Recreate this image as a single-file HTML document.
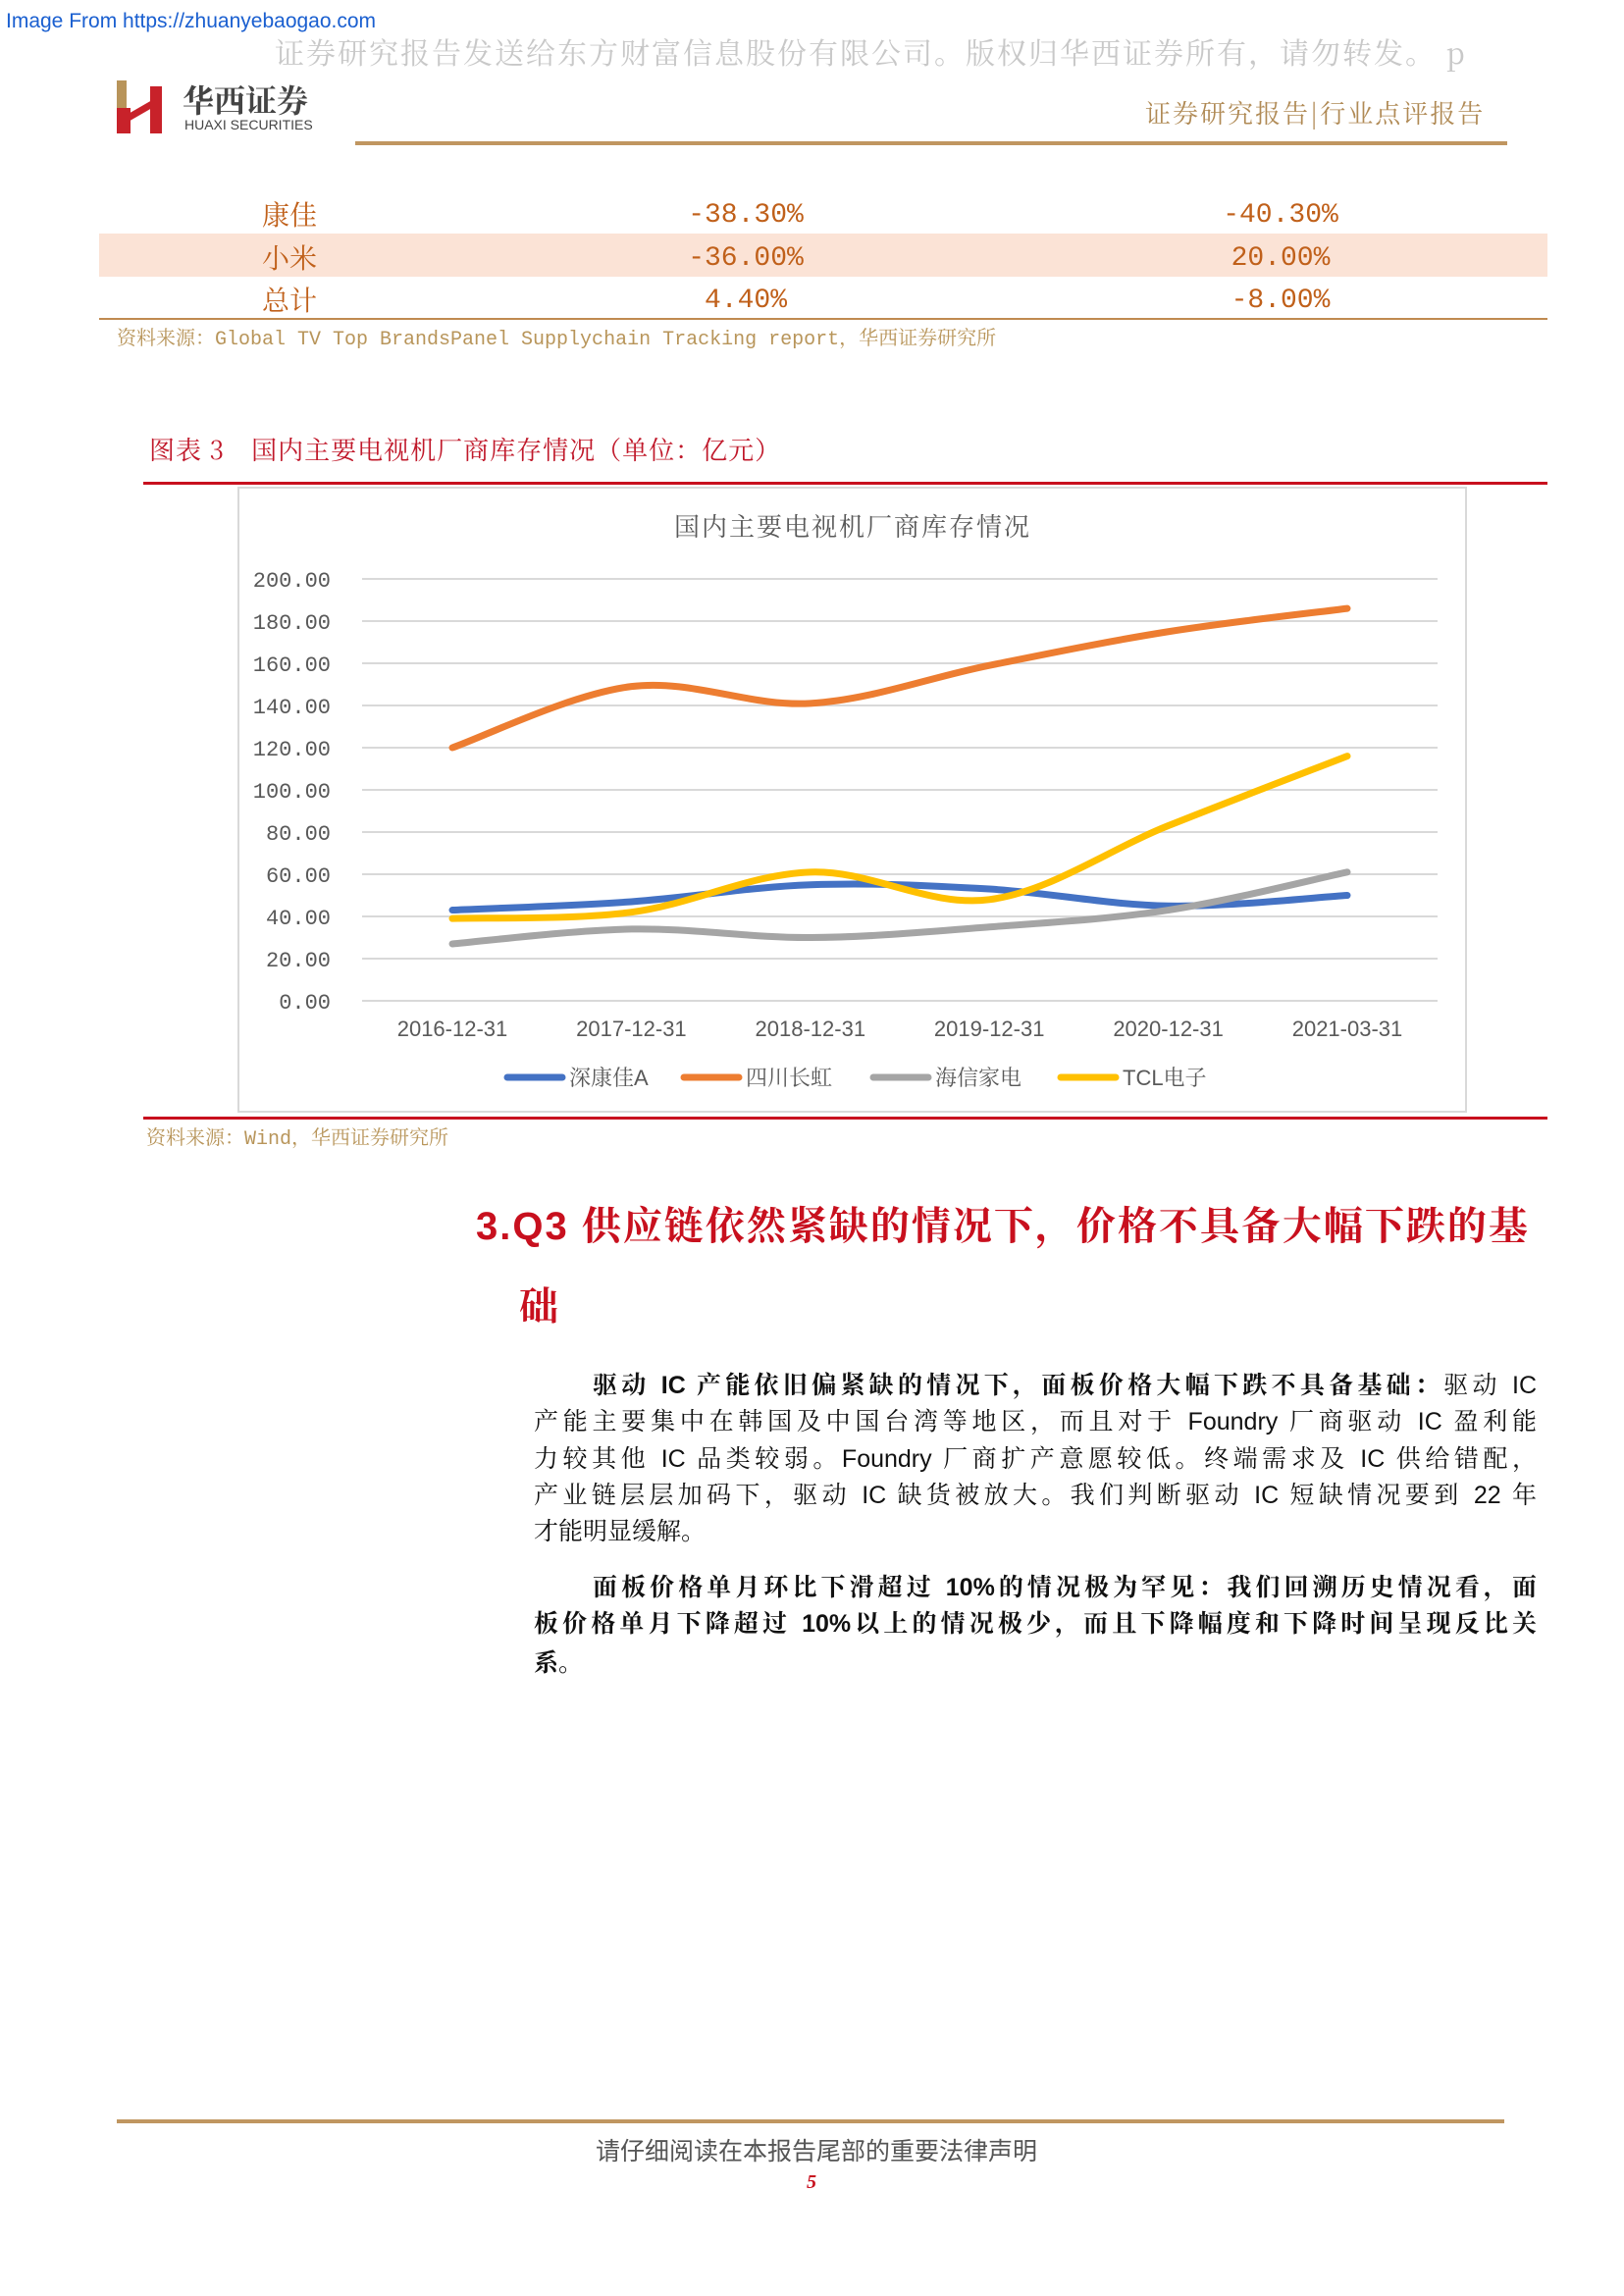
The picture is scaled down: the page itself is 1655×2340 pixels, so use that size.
<!DOCTYPE html>
<html><head><meta charset="utf-8">
<style>
body{margin:0;background:#fff;}
#page{position:relative;width:1655px;height:2340px;background:#fff;overflow:hidden;font-family:"Liberation Sans","Noto Serif CJK SC",serif;}
.a{position:absolute;white-space:nowrap;}
.serif{font-family:"Liberation Mono","Noto Serif CJK SC",serif;}
.line{position:absolute;left:544px;width:1022px;font-size:25px;line-height:30px;text-align:justify;text-align-last:justify;white-space:nowrap;font-family:"Liberation Sans","Noto Serif CJK SC",serif;color:#111;}
.last{text-align-last:left;}
.cell{position:absolute;font-size:28px;color:#c0601a;transform:translateX(-50%);white-space:nowrap;font-family:"Liberation Mono","Noto Serif CJK SC",serif;}
.num{margin-top:6px;}
</style></head><body>
<div id="page">
<div class="a" style="left:6px;top:10px;font-size:21px;color:#1a5fd0;font-family:'Liberation Sans',sans-serif;">Image From https://zhuanyebaogao.com</div>
<div class="a" style="left:280px;top:30px;font-size:30px;color:#c8c8c8;font-family:'Noto Serif CJK SC',serif;letter-spacing:2px;">证券研究报告发送给东方财富信息股份有限公司。版权归华西证券所有，请勿转发。 p</div>
<div style="position:absolute;left:119px;top:82px;width:50px;height:54px;">
 <div style="position:absolute;left:0;top:0;width:10px;height:54px;background:#b8945a;"></div>
 <div style="position:absolute;left:0;top:28px;width:14px;height:26px;background:#c8222a;"></div>
 <div style="position:absolute;left:34px;top:6px;width:12px;height:48px;background:#c8222a;"></div>
 <div style="position:absolute;left:8px;top:28px;width:30px;height:7px;background:#c8222a;transform:rotate(-30deg);"></div>
</div>
<div class="a" style="left:186px;top:78px;font-size:32px;font-weight:bold;color:#444;font-family:'Noto Serif CJK SC',serif;">华西证券</div>
<div class="a" style="left:188px;top:119px;font-size:14px;color:#444;">HUAXI SECURITIES</div>
<div class="a" style="left:1167px;top:96px;font-size:26px;color:#b08a55;font-family:'Noto Serif CJK SC',serif;letter-spacing:2px;">证券研究报告|行业点评报告</div>
<div style="position:absolute;left:362px;top:144px;width:1174px;height:4px;background:#c09660;"></div>

<div style="position:absolute;left:101px;top:238px;width:1476px;height:44px;background:#fbe3d6;"></div>
<div class="cell" style="left:295px;top:198px;">康佳</div>
<div class="cell num" style="left:760px;top:198px;">-38.30%</div>
<div class="cell num" style="left:1305px;top:198px;">-40.30%</div>
<div class="cell" style="left:295px;top:242px;">小米</div>
<div class="cell num" style="left:760px;top:242px;">-36.00%</div>
<div class="cell num" style="left:1305px;top:242px;">20.00%</div>
<div class="cell" style="left:295px;top:285px;">总计</div>
<div class="cell num" style="left:760px;top:285px;">4.40%</div>
<div class="cell num" style="left:1305px;top:285px;">-8.00%</div>
<div style="position:absolute;left:101px;top:324px;width:1476px;height:2px;background:#c08a50;"></div>
<div class="a serif" style="left:119px;top:328px;font-size:20px;color:#b8955a;">资料来源：Global TV Top BrandsPanel Supplychain Tracking report，华西证券研究所</div>

<div class="a" style="left:152px;top:439px;font-size:26px;color:#c0182a;font-family:'Noto Serif CJK SC',serif;letter-spacing:1px;">图表 3　国内主要电视机厂商库存情况（单位：亿元）</div>
<div style="position:absolute;left:146px;top:491px;width:1431px;height:3px;background:#c8101e;"></div>

<svg id="chart" style="position:absolute;left:0;top:0;" width="1655" height="1200"></svg>

<div style="position:absolute;left:146px;top:1138px;width:1431px;height:3px;background:#c8101e;"></div>
<div class="a serif" style="left:149px;top:1143px;font-size:20px;color:#b8955a;">资料来源：Wind，华西证券研究所</div>

<div class="a" style="left:485px;top:1218px;font-size:40px;font-weight:bold;color:#c8101e;font-family:'Liberation Sans','Noto Serif CJK SC',serif;letter-spacing:2px;">3.Q3 供应链依然紧缺的情况下，价格不具备大幅下跌的基</div>
<div class="a" style="left:529px;top:1300px;font-size:40px;font-weight:bold;color:#c8101e;font-family:'Noto Serif CJK SC',serif;">础</div>

<div>
<div class="line" style="top:1397px;left:604px;width:962px;"><b>驱动 IC 产能依旧偏紧缺的情况下，面板价格大幅下跌不具备基础：</b>驱动 IC</div>
<div class="line" style="top:1434px;">产能主要集中在韩国及中国台湾等地区，而且对于 Foundry 厂商驱动 IC 盈利能</div>
<div class="line" style="top:1472px;">力较其他 IC 品类较弱。Foundry 厂商扩产意愿较低。终端需求及 IC 供给错配，</div>
<div class="line" style="top:1509px;">产业链层层加码下，驱动 IC 缺货被放大。我们判断驱动 IC 短缺情况要到 22 年</div>
<div class="line last" style="top:1546px;">才能明显缓解。</div>
</div>
<div>
<div class="line" style="top:1603px;left:604px;width:962px;"><b>面板价格单月环比下滑超过 10%的情况极为罕见：我们回溯历史情况看，面</b></div>
<div class="line" style="top:1640px;"><b>板价格单月下降超过 10%以上的情况极少，而且下降幅度和下降时间呈现反比关</b></div>
<div class="line last" style="top:1680px;"><b>系。</b></div>
</div>

<div style="position:absolute;left:119px;top:2160px;width:1414px;height:4px;background:#c09660;"></div>
<div class="a" style="left:832px;top:2173px;transform:translateX(-50%);font-size:25px;color:#555;font-family:'Noto Sans CJK SC',sans-serif;">请仔细阅读在本报告尾部的重要法律声明</div>
<div class="a" style="left:822px;top:2213px;font-size:20px;font-weight:bold;font-style:italic;color:#c8101e;font-family:'Liberation Serif',serif;">5</div>
</div>

<script>
const categories = ["2016-12-31","2017-12-31","2018-12-31","2019-12-31","2020-12-31","2021-03-31"];
const seriesNames = ["深康佳A","四川长虹","海信家电","TCL电子"];
const kangjia = [43, 47, 55, 53, 45, 50];
const changhong = [120, 149, 141, 159, 175, 186];
const hisense = [27, 34, 30, 35, 43, 61];
const tcl = [39, 42, 61, 48, 83, 116];
const yTicks = [0,20,40,60,80,100,120,140,160,180,200];
const yTickLabels = ["0.00","20.00","40.00","60.00","80.00","100.00","120.00","140.00","160.00","180.00","200.00"];

const NS = "http://www.w3.org/2000/svg";
const svg = document.getElementById('chart');
const colors = ["#4472c4","#ed7d31","#a5a5a5","#ffc000"];
const plotL = 369, plotR = 1465, yTop = 590, yBot = 1020, x0 = 461, dx = 182.4;
const yScale = v => yBot - (v - 0) / 200 * (yBot - yTop);
const xScale = i => x0 + i * dx;
function mk(tag, attrs){const e=document.createElementNS(NS,tag);for(const k in attrs)e.setAttribute(k,attrs[k]);svg.appendChild(e);return e;}

const frame = mk('rect',{x:243,y:497,width:1251,height:636,fill:'#fff',stroke:'#d9d9d9','stroke-width':2});


const title = mk('text',{x:869,y:546,'text-anchor':'middle','font-size':26,fill:'#595959','font-family':'Noto Serif CJK SC, serif','letter-spacing':2});
title.textContent = "国内主要电视机厂商库存情况";



yTicks.forEach((t,i)=>{
  const g = mk('line',{x1:plotL,x2:plotR,y1:yScale(t),y2:yScale(t),stroke:'#d9d9d9','stroke-width':2});
  
  
  const lb = mk('text',{x:337,y:yScale(t)+8,'text-anchor':'end','font-size':22,fill:'#595959','font-family':'Liberation Mono, Noto Serif CJK SC, monospace'});
  lb.textContent = yTickLabels[i];
  
  
});
categories.forEach((c,i)=>{
  const lb = mk('text',{x:xScale(i),y:1056,'text-anchor':'middle','font-size':22,fill:'#595959','font-family':'Liberation Sans, sans-serif'});
  lb.textContent = c;
  
  
});

function smoothPath(vals){
  const pts = vals.map((v,i)=>[xScale(i), yScale(v)]);
  let d = `M${pts[0][0]},${pts[0][1]}`;
  for(let i=0;i<pts.length-1;i++){
    const p0=pts[Math.max(0,i-1)],p1=pts[i],p2=pts[i+1],p3=pts[Math.min(pts.length-1,i+2)];
    const t=0.17;
    const c1=[p1[0]+(p2[0]-p0[0])*t, p1[1]+(p2[1]-p0[1])*t];
    const c2=[p2[0]-(p3[0]-p1[0])*t, p2[1]-(p3[1]-p1[1])*t];
    d += ` C${c1[0]},${c1[1]} ${c2[0]},${c2[1]} ${p2[0]},${p2[1]}`;
  }
  return d;
}
const allSeries = [kangjia, changhong, hisense, tcl];
const seriesKeys = ["kangjia","changhong","hisense","tcl"];
allSeries.forEach((vals,k)=>{
  const p = mk('path',{d:smoothPath(vals),fill:'none',stroke:colors[k],'stroke-width':7,'stroke-linecap':'round'});
  
  
});
const legX = [517, 697, 890, 1081];
seriesNames.forEach((n,k)=>{
  const l = mk('line',{x1:legX[k],x2:legX[k]+56,y1:1098,y2:1098,stroke:colors[k],'stroke-width':7,'stroke-linecap':'round'});
  
  
  const t = mk('text',{x:legX[k]+63,y:1106,'font-size':22,fill:'#595959','font-family':'Liberation Sans, Noto Serif CJK SC, serif'});
  t.textContent = n;
  
  
});
</script>
</body></html>
